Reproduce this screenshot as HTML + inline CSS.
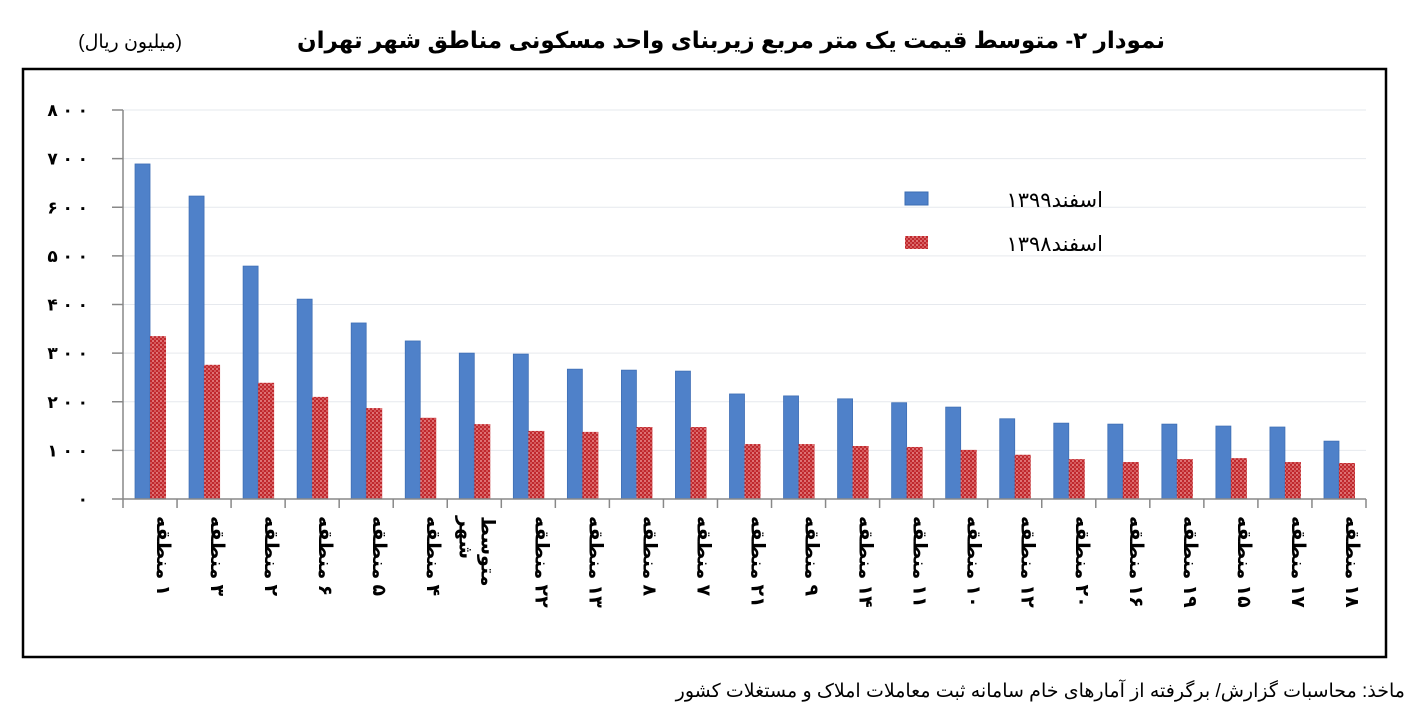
<!DOCTYPE html>
<html><head><meta charset="utf-8"><style>
body{margin:0;background:#fff;}
svg{display:block;font-family:"Liberation Sans","Noto Sans CJK SC","DejaVu Sans",sans-serif;}
</style></head><body>
<svg id="chart" width="1420" height="719" viewBox="0 0 1420 719" xmlns="http://www.w3.org/2000/svg">
<defs>
<pattern id="dots" width="4" height="4" patternUnits="userSpaceOnUse">
<rect width="4" height="4" fill="#c0282d"/><circle cx="1" cy="1" r="0.9" fill="#f3a6a6"/><circle cx="3" cy="3" r="0.9" fill="#e27b7b"/>
</pattern>
</defs>
<text x="1165" y="48" text-anchor="start" direction="rtl" font-size="23" font-weight="bold">نمودار ۲- متوسط قیمت یک متر مربع زیربنای واحد مسکونی مناطق شهر تهران</text>
<text x="182" y="48" text-anchor="start" direction="rtl" font-size="19">(میلیون ریال)</text>
<rect x="23" y="69" width="1363" height="588" fill="none" stroke="#000" stroke-width="2.5"/>
<g id="grid"></g>
<g id="bars"></g>
<g id="axes"></g>
<g>
<rect x="905" y="192" width="23" height="13" fill="#4f81c9" stroke="#3b6db3"/>
<text x="1103" y="207" text-anchor="start" direction="rtl" font-size="21">اسفند۱۳۹۹</text>
<rect x="905" y="236" width="23" height="13" fill="url(#dots)"/>
<text x="1103" y="251" text-anchor="start" direction="rtl" font-size="21">اسفند۱۳۹۸</text>
</g>
<text x="1405" y="697" text-anchor="start" direction="rtl" font-size="19">ماخذ: محاسبات گزارش/ برگرفته از آمارهای خام سامانه ثبت معاملات املاک و مستغلات کشور</text>
</svg>
<script>
const categories = ["۱ منطقه","۳ منطقه","۲ منطقه","۶ منطقه","۵ منطقه","۴ منطقه","متوسط|شهر","۲۲ منطقه","۱۳ منطقه","۸ منطقه","۷ منطقه","۲۱ منطقه","۹ منطقه","۱۴ منطقه","۱۱ منطقه","۱۰ منطقه","۱۲ منطقه","۲۰ منطقه","۱۶ منطقه","۱۹ منطقه","۱۵ منطقه","۱۷ منطقه","۱۸ منطقه"];
const values1399 = [689,623,479,411,362,325,300,298,267,265,263,216,212,206,198,189,165,156,154,154,150,148,119];
const values1398 = [335,276,239,210,187,167,154,140,138,148,148,113,113,109,107,101,91,82,76,82,84,76,74];
const yTicks = [0,100,200,300,400,500,600,700,800];
const yTickLabels = ["۰","۱ ۰ ۰","۲ ۰ ۰","۳ ۰ ۰","۴ ۰ ۰","۵ ۰ ۰","۶ ۰ ۰","۷ ۰ ۰","۸ ۰ ۰"];

const NS="http://www.w3.org/2000/svg";
const X0=123, X1=1366, Y0=499, Y800=110;
const bw=(X1-X0)/categories.length;
function y(v){return Y0-(v/800)*(Y0-Y800);}
function xc(i){return X0+bw*(i+0.5);}
function mk(tag,attrs,parent){const e=document.createElementNS(NS,tag);for(const k in attrs)e.setAttribute(k,attrs[k]);parent.appendChild(e);return e;}
const grid=document.getElementById('grid'),bars=document.getElementById('bars'),axes=document.getElementById('axes');
yTicks.forEach((t,i)=>{
  if(t>0){const g=mk('line',{x1:X0,x2:X1,y1:y(t),y2:y(t),stroke:'#e6e9ee','stroke-width':1},grid);
  
  }
  const tk=mk('line',{x1:X0-11,x2:X0,y1:y(t),y2:y(t),stroke:'#888','stroke-width':1.5},axes);
  
  
  const lb=mk('text',{x:88,y:y(t)+6,'text-anchor':'end','font-size':17,'font-weight':'bold'},axes);
  lb.textContent=yTickLabels[i];
  
  
});
categories.forEach((c,i)=>{
  const cx=xc(i);
  const b=mk('rect',{x:cx-15,y:y(values1399[i]),width:15,height:Y0-y(values1399[i]),fill:'#4f81c9',stroke:'#3f6fb5','stroke-width':0.8},bars);
  
  
  const r=mk('rect',{x:cx,y:y(values1398[i]),width:16,height:Y0-y(values1398[i]),fill:'url(#dots)'},bars);
  
  
  const tk=mk('line',{x1:X0+bw*(i+1),x2:X0+bw*(i+1),y1:Y0,y2:Y0+9,stroke:'#888','stroke-width':1.5},axes);
  
  
  const parts=c.split('|');
  parts.forEach((p,j)=>{
    const tx=cx+7-j*22, ty=516;
    const t=mk('text',{x:tx,y:ty,'font-size':19,'font-weight':'bold',direction:'rtl',transform:`rotate(90 ${tx} ${ty})`,'text-anchor':'end'},axes);
    t.textContent=p;
    
    
  });
});
const t0=mk('line',{x1:X0,x2:X0,y1:Y0+9,y2:Y0,stroke:'#888','stroke-width':1.5},axes);


const ya=mk('line',{x1:X0,x2:X0,y1:Y800,y2:Y0,stroke:'#888','stroke-width':1.5},axes);


const xa=mk('line',{x1:X0,x2:X1,y1:Y0,y2:Y0,stroke:'#888','stroke-width':1.5},axes);


</script>
</body></html>
